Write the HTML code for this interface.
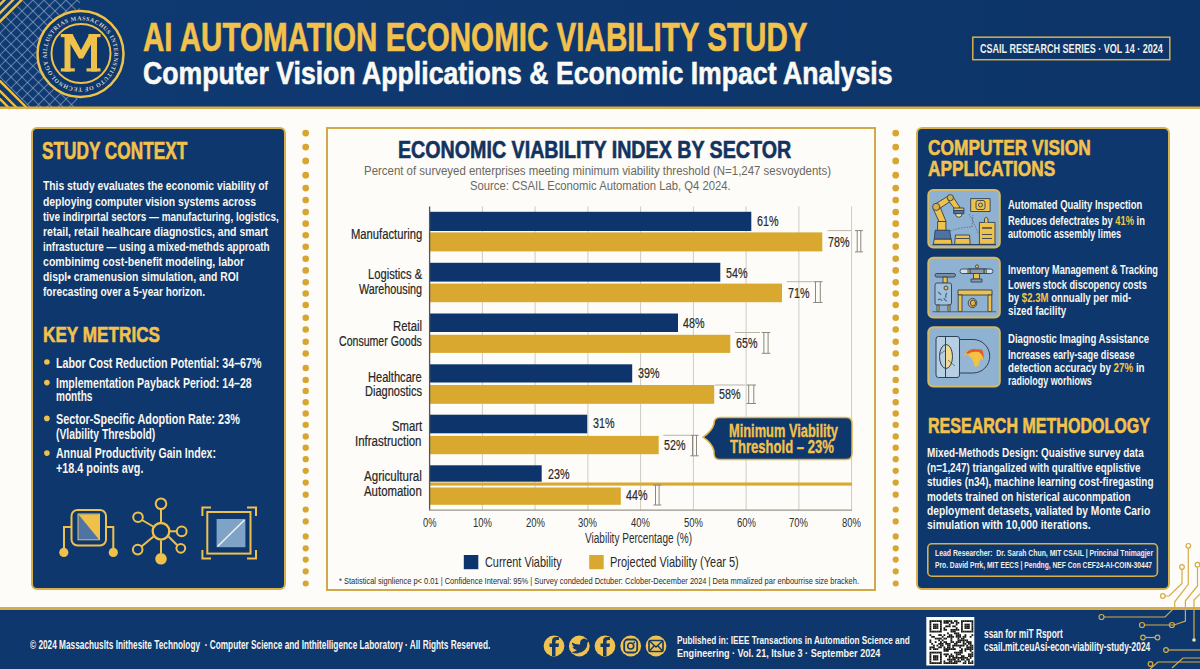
<!DOCTYPE html>
<html><head><meta charset="utf-8">
<style>
*{margin:0;padding:0;box-sizing:border-box}
html,body{width:1200px;height:669px;overflow:hidden;background:#fdfcf8;font-family:"Liberation Sans",sans-serif}
#root{position:relative;width:1200px;height:669px;overflow:hidden;background:#fdfcf8}
.t{position:absolute;white-space:nowrap;line-height:1.1172em;transform-origin:0 0;font-family:"Liberation Sans",sans-serif}
.panel{position:absolute;background:#0e376e;border:2px solid #d8b04c;border-radius:6px}
</style></head><body><div id="root">

<svg width="1200" height="110" style="position:absolute;left:0;top:0">
 <defs>
  <linearGradient id="hg" x1="0" y1="0" x2="1" y2="0">
   <stop offset="0" stop-color="#0f3a72"/><stop offset="1" stop-color="#0c3468"/>
  </linearGradient>
  <clipPath id="gc"><polygon points="24,0 80,0 77,107 29,107 0,78 0,24"/></clipPath>
 </defs>
 <rect x="0" y="0" width="1200" height="107" fill="url(#hg)"/>
 <g clip-path="url(#gc)" stroke="#9aaccb" stroke-opacity="0.6" stroke-width="1.1"><line x1="-132.0" y1="0" x2="-252.0" y2="120.0" /><line x1="-132.0" y1="0" x2="-12.0" y2="120.0" /><line x1="-121.0" y1="0" x2="-241.0" y2="120.0" /><line x1="-121.0" y1="0" x2="-1.0" y2="120.0" /><line x1="-110.0" y1="0" x2="-230.0" y2="120.0" /><line x1="-110.0" y1="0" x2="10.0" y2="120.0" /><line x1="-99.0" y1="0" x2="-219.0" y2="120.0" /><line x1="-99.0" y1="0" x2="21.0" y2="120.0" /><line x1="-88.0" y1="0" x2="-208.0" y2="120.0" /><line x1="-88.0" y1="0" x2="32.0" y2="120.0" /><line x1="-77.0" y1="0" x2="-197.0" y2="120.0" /><line x1="-77.0" y1="0" x2="43.0" y2="120.0" /><line x1="-66.0" y1="0" x2="-186.0" y2="120.0" /><line x1="-66.0" y1="0" x2="54.0" y2="120.0" /><line x1="-55.0" y1="0" x2="-175.0" y2="120.0" /><line x1="-55.0" y1="0" x2="65.0" y2="120.0" /><line x1="-44.0" y1="0" x2="-164.0" y2="120.0" /><line x1="-44.0" y1="0" x2="76.0" y2="120.0" /><line x1="-33.0" y1="0" x2="-153.0" y2="120.0" /><line x1="-33.0" y1="0" x2="87.0" y2="120.0" /><line x1="-22.0" y1="0" x2="-142.0" y2="120.0" /><line x1="-22.0" y1="0" x2="98.0" y2="120.0" /><line x1="-11.0" y1="0" x2="-131.0" y2="120.0" /><line x1="-11.0" y1="0" x2="109.0" y2="120.0" /><line x1="0.0" y1="0" x2="-120.0" y2="120.0" /><line x1="0.0" y1="0" x2="120.0" y2="120.0" /><line x1="11.0" y1="0" x2="-109.0" y2="120.0" /><line x1="11.0" y1="0" x2="131.0" y2="120.0" /><line x1="22.0" y1="0" x2="-98.0" y2="120.0" /><line x1="22.0" y1="0" x2="142.0" y2="120.0" /><line x1="33.0" y1="0" x2="-87.0" y2="120.0" /><line x1="33.0" y1="0" x2="153.0" y2="120.0" /><line x1="44.0" y1="0" x2="-76.0" y2="120.0" /><line x1="44.0" y1="0" x2="164.0" y2="120.0" /><line x1="55.0" y1="0" x2="-65.0" y2="120.0" /><line x1="55.0" y1="0" x2="175.0" y2="120.0" /><line x1="66.0" y1="0" x2="-54.0" y2="120.0" /><line x1="66.0" y1="0" x2="186.0" y2="120.0" /><line x1="77.0" y1="0" x2="-43.0" y2="120.0" /><line x1="77.0" y1="0" x2="197.0" y2="120.0" /><line x1="88.0" y1="0" x2="-32.0" y2="120.0" /><line x1="88.0" y1="0" x2="208.0" y2="120.0" /><line x1="99.0" y1="0" x2="-21.0" y2="120.0" /><line x1="99.0" y1="0" x2="219.0" y2="120.0" /><line x1="110.0" y1="0" x2="-10.0" y2="120.0" /><line x1="110.0" y1="0" x2="230.0" y2="120.0" /><line x1="121.0" y1="0" x2="1.0" y2="120.0" /><line x1="121.0" y1="0" x2="241.0" y2="120.0" /><line x1="132.0" y1="0" x2="12.0" y2="120.0" /><line x1="132.0" y1="0" x2="252.0" y2="120.0" /><line x1="143.0" y1="0" x2="23.0" y2="120.0" /><line x1="143.0" y1="0" x2="263.0" y2="120.0" /><line x1="154.0" y1="0" x2="34.0" y2="120.0" /><line x1="154.0" y1="0" x2="274.0" y2="120.0" /><line x1="165.0" y1="0" x2="45.0" y2="120.0" /><line x1="165.0" y1="0" x2="285.0" y2="120.0" /><line x1="176.0" y1="0" x2="56.0" y2="120.0" /><line x1="176.0" y1="0" x2="296.0" y2="120.0" /><line x1="187.0" y1="0" x2="67.0" y2="120.0" /><line x1="187.0" y1="0" x2="307.0" y2="120.0" /><line x1="198.0" y1="0" x2="78.0" y2="120.0" /><line x1="198.0" y1="0" x2="318.0" y2="120.0" /><line x1="209.0" y1="0" x2="89.0" y2="120.0" /><line x1="209.0" y1="0" x2="329.0" y2="120.0" /><line x1="220.0" y1="0" x2="100.0" y2="120.0" /><line x1="220.0" y1="0" x2="340.0" y2="120.0" /><line x1="231.0" y1="0" x2="111.0" y2="120.0" /><line x1="231.0" y1="0" x2="351.0" y2="120.0" /><line x1="242.0" y1="0" x2="122.0" y2="120.0" /><line x1="242.0" y1="0" x2="362.0" y2="120.0" /><line x1="253.0" y1="0" x2="133.0" y2="120.0" /><line x1="253.0" y1="0" x2="373.0" y2="120.0" /><line x1="264.0" y1="0" x2="144.0" y2="120.0" /><line x1="264.0" y1="0" x2="384.0" y2="120.0" /><line x1="275.0" y1="0" x2="155.0" y2="120.0" /><line x1="275.0" y1="0" x2="395.0" y2="120.0" /><line x1="286.0" y1="0" x2="166.0" y2="120.0" /><line x1="286.0" y1="0" x2="406.0" y2="120.0" /><line x1="297.0" y1="0" x2="177.0" y2="120.0" /><line x1="297.0" y1="0" x2="417.0" y2="120.0" /><line x1="308.0" y1="0" x2="188.0" y2="120.0" /><line x1="308.0" y1="0" x2="428.0" y2="120.0" /><line x1="319.0" y1="0" x2="199.0" y2="120.0" /><line x1="319.0" y1="0" x2="439.0" y2="120.0" /></g>
 <g stroke="#f0c040" stroke-width="2.4" fill="none">
  <line x1="-2" y1="23.5" x2="23.5" y2="-2"/>
  <line x1="-2" y1="15" x2="15" y2="-2"/>
  <line x1="-2" y1="6.5" x2="6.5" y2="-2"/>
  <line x1="-2" y1="79" x2="28" y2="109"/>
  <line x1="-2" y1="89" x2="18" y2="109"/>
  <line x1="-2" y1="97" x2="10" y2="109"/>
 </g>
 <rect x="0" y="106.5" width="1200" height="2.5" fill="#d9ae45"/>
 <circle cx="80.5" cy="54" r="44" fill="#0e376e"/>
 <circle cx="80.5" cy="54" r="43" fill="none" stroke="#eec14a" stroke-width="2.5"/>
 <circle cx="81" cy="53.5" r="29.5" fill="none" stroke="#eec14a" stroke-width="2"/>
 <path id="ring" d="M 80.5,54 m -33.8,0 a 33.8,33.8 0 1,1 67.6,0 a 33.8,33.8 0 1,1 -67.6,0" fill="none"/>
 <text font-family="Liberation Serif" font-weight="bold" font-size="6" fill="#d6d2c4" letter-spacing="0.5"><textPath href="#ring" startOffset="0">ILLUSTRIAS MASSACHUS  INTERNSTITUTO  OF TECHNOLOGY  ARDIONIAC  TECHNOLOGIAE</textPath></text>
 <g fill="#f0c24a">
  <rect x="64.5" y="34" width="6" height="37.5"/><rect x="91" y="34" width="6" height="37.5"/>
  <rect x="60.8" y="34" width="12" height="3.2"/><rect x="88.5" y="34" width="12" height="3.2"/>
  <rect x="60.8" y="68.3" width="14" height="3.2"/><rect x="86.5" y="68.3" width="14" height="3.2"/>
  <polygon points="64.5,34 72.5,34 81,50 89.5,34 97,34 83,58.5 79,58.5"/>
 </g>
</svg>
<div class="panel" style="left:31px;top:126.5px;width:255px;height:463.5px"></div>
<div style="position:absolute;left:325.5px;top:126.5px;width:550.5px;height:464px;border:2px solid #cfa94a;background:#fdfcf8"></div>
<div class="panel" style="left:915.5px;top:126.5px;width:254px;height:463px"></div>
<div style="position:absolute;left:0;top:607px;width:1200px;height:2.5px;background:#d6ad48"></div>
<div style="position:absolute;left:0;top:609.5px;width:1200px;height:60px;background:#0e376e"></div>
<svg width="1200" height="669" style="position:absolute;left:0;top:0">
<circle cx="305.7" cy="133.1" r="3.40" fill="#d6a532"/><circle cx="305.7" cy="147.1" r="3.39" fill="#d6a532"/><circle cx="305.7" cy="160.9" r="3.38" fill="#d6a532"/><circle cx="305.7" cy="175.2" r="3.37" fill="#d6a532"/><circle cx="305.7" cy="188.1" r="3.36" fill="#d6a532"/><circle cx="305.7" cy="200.0" r="3.35" fill="#d6a532"/><circle cx="305.7" cy="212.0" r="3.34" fill="#d6a532"/><circle cx="305.7" cy="223.7" r="3.33" fill="#d6a532"/><circle cx="305.7" cy="235.3" r="3.32" fill="#d6a532"/><circle cx="305.7" cy="246.7" r="3.31" fill="#d6a532"/><circle cx="305.7" cy="258.8" r="3.31" fill="#d6a532"/><circle cx="305.7" cy="270.4" r="3.30" fill="#d6a532"/><circle cx="305.7" cy="282.2" r="3.29" fill="#d6a532"/><circle cx="305.7" cy="293.5" r="3.28" fill="#d6a532"/><circle cx="305.7" cy="305.1" r="3.27" fill="#d6a532"/><circle cx="305.7" cy="317.8" r="3.26" fill="#d6a532"/><circle cx="305.7" cy="329.6" r="3.25" fill="#d6a532"/><circle cx="305.7" cy="341.7" r="3.24" fill="#d6a532"/><circle cx="305.7" cy="353.5" r="3.23" fill="#d6a532"/><circle cx="305.7" cy="368.0" r="3.22" fill="#d6a532"/><circle cx="305.7" cy="379.9" r="3.21" fill="#d6a532"/><circle cx="305.7" cy="390.9" r="3.20" fill="#d6a532"/><circle cx="305.7" cy="402.2" r="3.19" fill="#d6a532"/><circle cx="305.7" cy="413.5" r="3.18" fill="#d6a532"/><circle cx="305.7" cy="424.8" r="3.17" fill="#d6a532"/><circle cx="305.7" cy="436.4" r="3.16" fill="#d6a532"/><circle cx="305.7" cy="447.7" r="3.15" fill="#d6a532"/><circle cx="305.7" cy="459.2" r="3.14" fill="#d6a532"/><circle cx="305.7" cy="470.8" r="3.14" fill="#d6a532"/><circle cx="305.7" cy="482.6" r="3.13" fill="#d6a532"/><circle cx="305.7" cy="494.7" r="3.12" fill="#d6a532"/><circle cx="305.7" cy="509.5" r="3.11" fill="#d6a532"/><circle cx="305.7" cy="521.4" r="3.10" fill="#d6a532"/><circle cx="305.7" cy="536.4" r="3.09" fill="#d6a532"/><circle cx="305.7" cy="548.3" r="3.08" fill="#d6a532"/><circle cx="305.7" cy="559.6" r="3.07" fill="#d6a532"/><circle cx="305.7" cy="571.4" r="3.06" fill="#d6a532"/><circle cx="305.7" cy="583.5" r="3.05" fill="#d6a532"/><circle cx="895.7" cy="133.1" r="3.40" fill="#d6a532"/><circle cx="895.7" cy="147.1" r="3.39" fill="#d6a532"/><circle cx="895.7" cy="160.9" r="3.38" fill="#d6a532"/><circle cx="895.7" cy="175.2" r="3.37" fill="#d6a532"/><circle cx="895.7" cy="188.1" r="3.36" fill="#d6a532"/><circle cx="895.7" cy="200.0" r="3.35" fill="#d6a532"/><circle cx="895.7" cy="212.0" r="3.34" fill="#d6a532"/><circle cx="895.7" cy="223.7" r="3.33" fill="#d6a532"/><circle cx="895.7" cy="235.3" r="3.32" fill="#d6a532"/><circle cx="895.7" cy="246.7" r="3.31" fill="#d6a532"/><circle cx="895.7" cy="258.8" r="3.31" fill="#d6a532"/><circle cx="895.7" cy="270.4" r="3.30" fill="#d6a532"/><circle cx="895.7" cy="282.2" r="3.29" fill="#d6a532"/><circle cx="895.7" cy="293.5" r="3.28" fill="#d6a532"/><circle cx="895.7" cy="305.1" r="3.27" fill="#d6a532"/><circle cx="895.7" cy="317.8" r="3.26" fill="#d6a532"/><circle cx="895.7" cy="329.6" r="3.25" fill="#d6a532"/><circle cx="895.7" cy="341.7" r="3.24" fill="#d6a532"/><circle cx="895.7" cy="353.5" r="3.23" fill="#d6a532"/><circle cx="895.7" cy="368.0" r="3.22" fill="#d6a532"/><circle cx="895.7" cy="379.9" r="3.21" fill="#d6a532"/><circle cx="895.7" cy="390.9" r="3.20" fill="#d6a532"/><circle cx="895.7" cy="402.2" r="3.19" fill="#d6a532"/><circle cx="895.7" cy="413.5" r="3.18" fill="#d6a532"/><circle cx="895.7" cy="424.8" r="3.17" fill="#d6a532"/><circle cx="895.7" cy="436.4" r="3.16" fill="#d6a532"/><circle cx="895.7" cy="447.7" r="3.15" fill="#d6a532"/><circle cx="895.7" cy="459.2" r="3.14" fill="#d6a532"/><circle cx="895.7" cy="470.8" r="3.14" fill="#d6a532"/><circle cx="895.7" cy="482.6" r="3.13" fill="#d6a532"/><circle cx="895.7" cy="494.7" r="3.12" fill="#d6a532"/><circle cx="895.7" cy="509.5" r="3.11" fill="#d6a532"/><circle cx="895.7" cy="521.4" r="3.10" fill="#d6a532"/><circle cx="895.7" cy="536.4" r="3.09" fill="#d6a532"/><circle cx="895.7" cy="548.3" r="3.08" fill="#d6a532"/><circle cx="895.7" cy="559.6" r="3.07" fill="#d6a532"/><circle cx="895.7" cy="571.4" r="3.06" fill="#d6a532"/><circle cx="895.7" cy="583.5" r="3.05" fill="#d6a532"/>
<line x1="482.4" y1="206.5" x2="482.4" y2="510" stroke="#cfcbc2" stroke-width="1"/><line x1="535.1" y1="206.5" x2="535.1" y2="510" stroke="#cfcbc2" stroke-width="1"/><line x1="587.9" y1="206.5" x2="587.9" y2="510" stroke="#cfcbc2" stroke-width="1"/><line x1="640.6" y1="206.5" x2="640.6" y2="510" stroke="#cfcbc2" stroke-width="1"/><line x1="693.4" y1="206.5" x2="693.4" y2="510" stroke="#cfcbc2" stroke-width="1"/><line x1="746.1" y1="206.5" x2="746.1" y2="510" stroke="#cfcbc2" stroke-width="1"/><line x1="798.9" y1="206.5" x2="798.9" y2="510" stroke="#cfcbc2" stroke-width="1"/><line x1="851.6" y1="206.5" x2="851.6" y2="510" stroke="#cfcbc2" stroke-width="1"/><rect x="429.6" y="211.8" width="321.7" height="19.2" fill="#0e356b"/><rect x="429.6" y="262.8" width="290.7" height="18.8" fill="#0e356b"/><rect x="429.6" y="313.5" width="248.4" height="18.5" fill="#0e356b"/><rect x="429.6" y="364.3" width="202.6" height="18.2" fill="#0e356b"/><rect x="429.6" y="414.7" width="157.6" height="18.6" fill="#0e356b"/><rect x="429.6" y="465.3" width="112.1" height="16.4" fill="#0e356b"/><rect x="429.6" y="232.4" width="392.7" height="19.0" fill="#d9a82f"/><rect x="429.6" y="283.6" width="352.4" height="18.6" fill="#d9a82f"/><rect x="429.6" y="334.8" width="300.7" height="18.1" fill="#d9a82f"/><rect x="429.6" y="385.0" width="284.6" height="18.8" fill="#d9a82f"/><rect x="429.6" y="435.9" width="229.1" height="18.3" fill="#d9a82f"/><rect x="429.6" y="487.5" width="191.2" height="17.3" fill="#d9a82f"/><rect x="429.6" y="482.5" width="422.4" height="3.1" fill="#d9a82f"/><line x1="429.6" y1="206.5" x2="429.6" y2="510.5" stroke="#555" stroke-width="1.3"/><line x1="429" y1="510.2" x2="852" y2="510.2" stroke="#9a968c" stroke-width="1.2"/><line x1="827.5" y1="230.6" x2="851.0" y2="230.6" stroke="#b9b4aa" stroke-width="1"/><g stroke="#8e887c" stroke-width="1" fill="none"><line x1="855.0" y1="230.6" x2="863.0" y2="230.6"/><line x1="855.0" y1="251.9" x2="863.0" y2="251.9"/><line x1="857.2" y1="230.6" x2="857.2" y2="251.9"/><line x1="860.8" y1="230.6" x2="860.8" y2="251.9"/></g><line x1="786.7" y1="281.7" x2="812.5" y2="281.7" stroke="#b9b4aa" stroke-width="1"/><g stroke="#8e887c" stroke-width="1" fill="none"><line x1="813.3" y1="281.7" x2="822.5" y2="281.7"/><line x1="813.3" y1="302.5" x2="822.5" y2="302.5"/><line x1="815.5" y1="281.7" x2="815.5" y2="302.5"/><line x1="820.3" y1="281.7" x2="820.3" y2="302.5"/></g><line x1="735.0" y1="332.5" x2="760.0" y2="332.5" stroke="#b9b4aa" stroke-width="1"/><g stroke="#8e887c" stroke-width="1" fill="none"><line x1="761.7" y1="332.5" x2="770.3" y2="332.5"/><line x1="761.7" y1="353.3" x2="770.3" y2="353.3"/><line x1="763.9" y1="332.5" x2="763.9" y2="353.3"/><line x1="768.1" y1="332.5" x2="768.1" y2="353.3"/></g><line x1="715.0" y1="385.0" x2="745.0" y2="385.0" stroke="#b9b4aa" stroke-width="1"/><g stroke="#8e887c" stroke-width="1" fill="none"><line x1="746.5" y1="385.0" x2="756.0" y2="385.0"/><line x1="746.5" y1="403.5" x2="756.0" y2="403.5"/><line x1="748.7" y1="385.0" x2="748.7" y2="403.5"/><line x1="753.8" y1="385.0" x2="753.8" y2="403.5"/></g><line x1="663.3" y1="435.3" x2="690.0" y2="435.3" stroke="#b9b4aa" stroke-width="1"/><g stroke="#8e887c" stroke-width="1" fill="none"><line x1="690.3" y1="435.3" x2="698.7" y2="435.3"/><line x1="690.3" y1="455.8" x2="698.7" y2="455.8"/><line x1="692.5" y1="435.3" x2="692.5" y2="455.8"/><line x1="696.5" y1="435.3" x2="696.5" y2="455.8"/></g><g stroke="#8e887c" stroke-width="1" fill="none"><line x1="653.3" y1="485.0" x2="661.3" y2="485.0"/><line x1="653.3" y1="505.0" x2="661.3" y2="505.0"/><line x1="655.5" y1="485.0" x2="655.5" y2="505.0"/><line x1="659.1" y1="485.0" x2="659.1" y2="505.0"/></g><path d="M 720,417.5 L 846,417.5 Q 852,417.5 852,423.5 L 852,453.5 Q 852,459.5 846,459.5 L 720,459.5 Q 714,459.5 714,453.5 L 714,451 Q 712,443 703,437.2 Q 712,431 714,424 L 714,423.5 Q 714,417.5 720,417.5 Z" fill="#0e376e" stroke="#e2b548" stroke-width="1.5"/><rect x="463.8" y="555.0" width="14.5" height="14.2" fill="#0e356b"/><rect x="589.2" y="555.0" width="14.5" height="14.2" fill="#d9a82f"/>

<g fill="none" stroke="#efc04a" stroke-width="2">
 <rect x="71.5" y="510" width="34.5" height="35.5" rx="6"/>
 <path d="M71.5,527 H64 V550"/><path d="M106,527 H113.3 V550"/>
</g>
<circle cx="63.8" cy="552.4" r="4.6" fill="#efc04a"/><circle cx="113.3" cy="552.4" r="4.6" fill="#efc04a"/>
<rect x="78" y="514" width="21.5" height="25.8" fill="#4f74a3" stroke="#d9c27a" stroke-width="1"/>
<polygon points="78.5,514.5 99,514.5 99,539.5" fill="#efc04a"/>
<g stroke="#efc04a" stroke-width="2" fill="none">
 <line x1="161" y1="509" x2="161" y2="522"/><line x1="161" y1="540.5" x2="161" y2="553"/>
 <line x1="142" y1="520" x2="154" y2="527"/><line x1="170" y1="531.3" x2="176.5" y2="531.3"/>
 <line x1="141.5" y1="546.5" x2="153.5" y2="536.5"/><line x1="168.5" y1="536.5" x2="177" y2="545"/>
 <circle cx="161" cy="531.3" r="8.3" stroke-width="2.3"/>
 <circle cx="161" cy="503.8" r="5.3"/><circle cx="138" cy="517.2" r="4.8"/><circle cx="181.7" cy="531.3" r="4.9"/>
 <circle cx="137.7" cy="549.6" r="4.8"/><circle cx="180.8" cy="548.3" r="4.4"/>
</g>
<circle cx="161" cy="558.8" r="5.8" fill="#efc04a"/>
<g stroke="#efc04a" stroke-width="2" fill="none">
 <path d="M202.4,516 V507.5 H211"/><path d="M247,507.5 H256 V516"/>
 <path d="M202.4,550 V558.4 H211"/><path d="M247,558.4 H256 V550"/>
 <rect x="207.3" y="512" width="43.2" height="41.6"/>
</g>
<rect x="216.6" y="519" width="28.8" height="28.2" fill="#7fa3c7"/>
<line x1="217.5" y1="546.5" x2="244.5" y2="520" stroke="#f4f4f0" stroke-width="1.4"/>

<rect x="928.3" y="189.9" width="71.5" height="57.6" rx="5" fill="#8fb2d3" stroke="#d8b95e" stroke-width="2"/><rect x="928.3" y="257.7" width="71.5" height="59.8" rx="5" fill="#8fb2d3" stroke="#d8b95e" stroke-width="2"/><rect x="928.3" y="327.2" width="71.5" height="59.2" rx="5" fill="#8fb2d3" stroke="#d8b95e" stroke-width="2"/>
<g stroke="#2f3f55" stroke-width="0.9" stroke-linejoin="round">
 <polygon points="970.7,198.6 990.1,198.6 990.1,211.5 970.7,211.5" fill="#efc24e"/>
 <rect x="976" y="200.5" width="9" height="9" rx="2" fill="none"/>
 <circle cx="980.5" cy="205" r="2" fill="none"/>
 <path d="M950,231 Q962,227 972,227 L973,215" fill="none" stroke="#52667d" stroke-dasharray="1.6,1.2" stroke-width="0.8"/>
 <path d="M969,214 Q974,222 978,233" fill="none" stroke="#52667d" stroke-dasharray="1.6,1.2" stroke-width="0.8"/>
 <polygon points="934.2,239 951.2,239 952,244.3 933.4,244.3" fill="#efc24e"/>
 <polygon points="935.2,230.2 949.5,230.2 951,239 934.2,239" fill="#4d73a6"/>
 <rect x="937.6" y="221.5" width="8.3" height="8.7" fill="#efc24e"/>
 <polygon points="933,208.5 939.5,205.5 946,221.5 939,221.5" fill="#efc24e"/>
 <polygon points="934.5,204.5 949,195.5 952.5,200 938,209.5" fill="#efc24e"/>
 <polygon points="948,200 952.5,196 960,207.5 955.5,210" fill="#efc24e"/>
 <circle cx="936.2" cy="206.9" r="3.6" fill="#d9b04a"/>
 <circle cx="950.3" cy="197.7" r="3.1" fill="#d9b04a"/>
 <path d="M953.7,210.5 L953.7,208 H963.9 V210.5 Z" fill="#efc24e"/>
 <rect x="953.7" y="210.5" width="10.2" height="3.2" fill="#4d73a6"/>
 <path d="M955.5,213.7 a3.3,3.6 0 0 0 6.6,0 z" fill="#f4e2a8"/>
 <polygon points="955.5,235 969.5,235 970.2,244.3 954.6,244.3" fill="#efc24e"/>
 <line x1="956" y1="238.5" x2="969" y2="238.5"/>
 <rect x="979.4" y="222.4" width="15.6" height="21.9" fill="#efc24e"/>
 <line x1="982" y1="228" x2="992" y2="228" stroke-width="1.4"/>
 <line x1="982" y1="234.5" x2="992" y2="234.5"/>
 <line x1="982" y1="238.5" x2="992" y2="238.5"/>
 <path d="M984.5,222.4 V219 Q986.2,215.5 988,219 V222.4" fill="#efc24e"/>
 <line x1="932.5" y1="244.6" x2="996" y2="244.6" stroke-width="1.1"/>
</g>
<g stroke="#2f3f55" stroke-width="0.9" stroke-linejoin="round">
 <rect x="935" y="273.5" width="20.5" height="3.6" rx="1.8" fill="#7d8fa2"/>
 <rect x="943" y="277.1" width="4.2" height="6" fill="#efc24e"/>
 <rect x="935" y="283" width="16.5" height="22" rx="2" fill="#a4c0d8"/>
 <circle cx="946" cy="288" r="2" fill="#e2c060"/>
 <path d="M938,292 q2,1 3,3 M947,293 q-2,2 -1,5 M938,300 q3,-2 4,1 M944,298 q0,2 3,3" fill="none" stroke="#3c6da8" stroke-width="1.2"/>
 <rect x="937" y="305" width="2" height="6.5" fill="#efc24e"/><rect x="948" y="305" width="2" height="6.5" fill="#efc24e"/>
 <rect x="960" y="269" width="33" height="4.5" rx="2.25" fill="#cfe0ee"/>
 <rect x="968" y="269" width="2.2" height="4.5" fill="#efc24e"/><rect x="984" y="269" width="2.2" height="4.5" fill="#efc24e"/>
 <rect x="970.2" y="269" width="13.8" height="4.5" fill="#8a9aa8"/>
 <circle cx="977" cy="266.5" r="1.6" fill="#efc24e"/>
 <rect x="973.5" y="273.5" width="6" height="5.5" fill="#efc24e"/>
 <rect x="971" y="279" width="11" height="3" fill="#8a9aa8"/>
 <rect x="958" y="290" width="34" height="5" fill="#efc24e"/>
 <rect x="958.2" y="295" width="3.8" height="16.5" fill="#efc24e"/><rect x="988" y="295" width="3.8" height="16.5" fill="#efc24e"/>
 <ellipse cx="972.5" cy="303" rx="4.3" ry="4.6" fill="#e3b344"/>
 <ellipse cx="973" cy="303" rx="2.6" ry="3" fill="none"/>
 <line x1="932.5" y1="311.8" x2="996" y2="311.8" stroke-width="1.1" stroke="#4b6075"/>
</g>
<g stroke="#2f3f55" stroke-width="1" fill="none">
 <path d="M959.5,339.5 H973 a16.75,16.75 0 0 1 0,33.5 H959.5 Z" fill="#95b5d2"/>
 <rect x="936" y="336.5" width="23.5" height="41" rx="2.5" fill="#b6cfe3"/>
 <path d="M946,344.5 a6.5,12 0 0 1 0,24" fill="#f2d98e"/>
 <path d="M946,344.5 a6.5,12 0 0 0 0,24"/>
 <line x1="945.5" y1="336.5" x2="945.5" y2="377.5"/>
 <line x1="940" y1="354" x2="946" y2="350" stroke-width="0.6"/>
 <line x1="948" y1="360" x2="955" y2="366" stroke-width="0.6"/>
</g>
<path d="M963,357 Q967,349 972,349.5 L982,350 Q984,355 983,360 Q981,358 980,360 Q979,367 975,367 Q973,357 966,354 Q964,356 963,357 Z" fill="#f3c245"/>
<path d="M966,353 Q970,348.5 974,349 L982,349.5 Q984,353 983.5,359 Q982,354 979,352 Q972,351 968,354 Z" fill="#e55a2a"/>

<rect x="927.8" y="543.8" width="229.6" height="32.4" rx="4" fill="none" stroke="#d9b04a" stroke-width="1.6"/>
<rect x="972.8" y="37.2" width="197" height="22.5" fill="none" stroke="#d9b04a" stroke-width="1.5"/>
<circle cx="554.0" cy="646" r="10.4" fill="#f0c350"/><circle cx="579.3" cy="646" r="10.4" fill="#f0c350"/><circle cx="605.0" cy="646" r="10.4" fill="#f0c350"/><circle cx="630.7" cy="646" r="10.4" fill="#f0c350"/><circle cx="656.0" cy="646" r="10.4" fill="#f0c350"/><path d="M555.5,656 V647 H558.5 L559,643.5 H555.5 V641.5 Q555.5,640 557,640 H559 V637 H556 Q552,637 552,641 V643.5 H549.5 V647 H552 V656 Z" fill="#143a6b"/><path d="M572,642.5 Q576,645 580,644.5 Q579.5,639.5 584,638.5 Q586,638.5 587,640 L589,639 L588,641 L589.5,641 Q588.5,642 587.5,642.5 Q587.5,652 577,653.5 Q573.5,653.5 571.5,652 Q575,652 577,650 Q573,649 572.5,646.5 L574.5,646.5 Q571.5,645 572,642.5 Z" fill="#143a6b"/><path d="M606.5,656 V647 H609.5 L610,643.5 H606.5 V641.5 Q606.5,640 608,640 H610 V637 H607 Q603,637 603,641 V643.5 H600.5 V647 H603 V656 Z" fill="#143a6b"/><rect x="624.2" y="639.5" width="13" height="13" rx="3.5" fill="none" stroke="#143a6b" stroke-width="1.8"/><circle cx="630.7" cy="646" r="3" fill="none" stroke="#143a6b" stroke-width="1.6"/><circle cx="634.2" cy="642.4" r="0.9" fill="#143a6b"/><rect x="649" y="640.5" width="14" height="11" rx="1.5" fill="none" stroke="#143a6b" stroke-width="1.7"/><path d="M649.5,641 L656,647 L662.5,641 M649.5,651 L654,646 M662.5,651 L658,646" fill="none" stroke="#143a6b" stroke-width="1.5"/>
<rect x="926.3" y="617" width="48" height="48.5" fill="#fdfdfb"/><rect x="929.50" y="620.20" width="1.80" height="1.80" fill="#1a1a1a"/><rect x="931.25" y="620.20" width="1.80" height="1.80" fill="#1a1a1a"/><rect x="933.00" y="620.20" width="1.80" height="1.80" fill="#1a1a1a"/><rect x="934.75" y="620.20" width="1.80" height="1.80" fill="#1a1a1a"/><rect x="936.50" y="620.20" width="1.80" height="1.80" fill="#1a1a1a"/><rect x="938.25" y="620.20" width="1.80" height="1.80" fill="#1a1a1a"/><rect x="940.00" y="620.20" width="1.80" height="1.80" fill="#1a1a1a"/><rect x="943.50" y="620.20" width="1.80" height="1.80" fill="#1a1a1a"/><rect x="945.25" y="620.20" width="1.80" height="1.80" fill="#1a1a1a"/><rect x="947.00" y="620.20" width="1.80" height="1.80" fill="#1a1a1a"/><rect x="948.75" y="620.20" width="1.80" height="1.80" fill="#1a1a1a"/><rect x="950.50" y="620.20" width="1.80" height="1.80" fill="#1a1a1a"/><rect x="954.00" y="620.20" width="1.80" height="1.80" fill="#1a1a1a"/><rect x="955.75" y="620.20" width="1.80" height="1.80" fill="#1a1a1a"/><rect x="961.00" y="620.20" width="1.80" height="1.80" fill="#1a1a1a"/><rect x="962.75" y="620.20" width="1.80" height="1.80" fill="#1a1a1a"/><rect x="964.50" y="620.20" width="1.80" height="1.80" fill="#1a1a1a"/><rect x="966.25" y="620.20" width="1.80" height="1.80" fill="#1a1a1a"/><rect x="968.00" y="620.20" width="1.80" height="1.80" fill="#1a1a1a"/><rect x="969.75" y="620.20" width="1.80" height="1.80" fill="#1a1a1a"/><rect x="971.50" y="620.20" width="1.80" height="1.80" fill="#1a1a1a"/><rect x="929.50" y="621.95" width="1.80" height="1.80" fill="#1a1a1a"/><rect x="940.00" y="621.95" width="1.80" height="1.80" fill="#1a1a1a"/><rect x="943.50" y="621.95" width="1.80" height="1.80" fill="#1a1a1a"/><rect x="945.25" y="621.95" width="1.80" height="1.80" fill="#1a1a1a"/><rect x="947.00" y="621.95" width="1.80" height="1.80" fill="#1a1a1a"/><rect x="950.50" y="621.95" width="1.80" height="1.80" fill="#1a1a1a"/><rect x="952.25" y="621.95" width="1.80" height="1.80" fill="#1a1a1a"/><rect x="955.75" y="621.95" width="1.80" height="1.80" fill="#1a1a1a"/><rect x="957.50" y="621.95" width="1.80" height="1.80" fill="#1a1a1a"/><rect x="961.00" y="621.95" width="1.80" height="1.80" fill="#1a1a1a"/><rect x="971.50" y="621.95" width="1.80" height="1.80" fill="#1a1a1a"/><rect x="929.50" y="623.70" width="1.80" height="1.80" fill="#1a1a1a"/><rect x="933.00" y="623.70" width="1.80" height="1.80" fill="#1a1a1a"/><rect x="934.75" y="623.70" width="1.80" height="1.80" fill="#1a1a1a"/><rect x="936.50" y="623.70" width="1.80" height="1.80" fill="#1a1a1a"/><rect x="940.00" y="623.70" width="1.80" height="1.80" fill="#1a1a1a"/><rect x="948.75" y="623.70" width="1.80" height="1.80" fill="#1a1a1a"/><rect x="955.75" y="623.70" width="1.80" height="1.80" fill="#1a1a1a"/><rect x="961.00" y="623.70" width="1.80" height="1.80" fill="#1a1a1a"/><rect x="964.50" y="623.70" width="1.80" height="1.80" fill="#1a1a1a"/><rect x="966.25" y="623.70" width="1.80" height="1.80" fill="#1a1a1a"/><rect x="968.00" y="623.70" width="1.80" height="1.80" fill="#1a1a1a"/><rect x="971.50" y="623.70" width="1.80" height="1.80" fill="#1a1a1a"/><rect x="929.50" y="625.45" width="1.80" height="1.80" fill="#1a1a1a"/><rect x="933.00" y="625.45" width="1.80" height="1.80" fill="#1a1a1a"/><rect x="934.75" y="625.45" width="1.80" height="1.80" fill="#1a1a1a"/><rect x="936.50" y="625.45" width="1.80" height="1.80" fill="#1a1a1a"/><rect x="940.00" y="625.45" width="1.80" height="1.80" fill="#1a1a1a"/><rect x="945.25" y="625.45" width="1.80" height="1.80" fill="#1a1a1a"/><rect x="947.00" y="625.45" width="1.80" height="1.80" fill="#1a1a1a"/><rect x="948.75" y="625.45" width="1.80" height="1.80" fill="#1a1a1a"/><rect x="952.25" y="625.45" width="1.80" height="1.80" fill="#1a1a1a"/><rect x="954.00" y="625.45" width="1.80" height="1.80" fill="#1a1a1a"/><rect x="961.00" y="625.45" width="1.80" height="1.80" fill="#1a1a1a"/><rect x="964.50" y="625.45" width="1.80" height="1.80" fill="#1a1a1a"/><rect x="966.25" y="625.45" width="1.80" height="1.80" fill="#1a1a1a"/><rect x="968.00" y="625.45" width="1.80" height="1.80" fill="#1a1a1a"/><rect x="971.50" y="625.45" width="1.80" height="1.80" fill="#1a1a1a"/><rect x="929.50" y="627.20" width="1.80" height="1.80" fill="#1a1a1a"/><rect x="933.00" y="627.20" width="1.80" height="1.80" fill="#1a1a1a"/><rect x="934.75" y="627.20" width="1.80" height="1.80" fill="#1a1a1a"/><rect x="936.50" y="627.20" width="1.80" height="1.80" fill="#1a1a1a"/><rect x="940.00" y="627.20" width="1.80" height="1.80" fill="#1a1a1a"/><rect x="943.50" y="627.20" width="1.80" height="1.80" fill="#1a1a1a"/><rect x="955.75" y="627.20" width="1.80" height="1.80" fill="#1a1a1a"/><rect x="961.00" y="627.20" width="1.80" height="1.80" fill="#1a1a1a"/><rect x="964.50" y="627.20" width="1.80" height="1.80" fill="#1a1a1a"/><rect x="966.25" y="627.20" width="1.80" height="1.80" fill="#1a1a1a"/><rect x="968.00" y="627.20" width="1.80" height="1.80" fill="#1a1a1a"/><rect x="971.50" y="627.20" width="1.80" height="1.80" fill="#1a1a1a"/><rect x="929.50" y="628.95" width="1.80" height="1.80" fill="#1a1a1a"/><rect x="940.00" y="628.95" width="1.80" height="1.80" fill="#1a1a1a"/><rect x="943.50" y="628.95" width="1.80" height="1.80" fill="#1a1a1a"/><rect x="945.25" y="628.95" width="1.80" height="1.80" fill="#1a1a1a"/><rect x="950.50" y="628.95" width="1.80" height="1.80" fill="#1a1a1a"/><rect x="952.25" y="628.95" width="1.80" height="1.80" fill="#1a1a1a"/><rect x="954.00" y="628.95" width="1.80" height="1.80" fill="#1a1a1a"/><rect x="955.75" y="628.95" width="1.80" height="1.80" fill="#1a1a1a"/><rect x="957.50" y="628.95" width="1.80" height="1.80" fill="#1a1a1a"/><rect x="961.00" y="628.95" width="1.80" height="1.80" fill="#1a1a1a"/><rect x="971.50" y="628.95" width="1.80" height="1.80" fill="#1a1a1a"/><rect x="929.50" y="630.70" width="1.80" height="1.80" fill="#1a1a1a"/><rect x="931.25" y="630.70" width="1.80" height="1.80" fill="#1a1a1a"/><rect x="933.00" y="630.70" width="1.80" height="1.80" fill="#1a1a1a"/><rect x="934.75" y="630.70" width="1.80" height="1.80" fill="#1a1a1a"/><rect x="936.50" y="630.70" width="1.80" height="1.80" fill="#1a1a1a"/><rect x="938.25" y="630.70" width="1.80" height="1.80" fill="#1a1a1a"/><rect x="940.00" y="630.70" width="1.80" height="1.80" fill="#1a1a1a"/><rect x="950.50" y="630.70" width="1.80" height="1.80" fill="#1a1a1a"/><rect x="952.25" y="630.70" width="1.80" height="1.80" fill="#1a1a1a"/><rect x="954.00" y="630.70" width="1.80" height="1.80" fill="#1a1a1a"/><rect x="961.00" y="630.70" width="1.80" height="1.80" fill="#1a1a1a"/><rect x="962.75" y="630.70" width="1.80" height="1.80" fill="#1a1a1a"/><rect x="964.50" y="630.70" width="1.80" height="1.80" fill="#1a1a1a"/><rect x="966.25" y="630.70" width="1.80" height="1.80" fill="#1a1a1a"/><rect x="968.00" y="630.70" width="1.80" height="1.80" fill="#1a1a1a"/><rect x="969.75" y="630.70" width="1.80" height="1.80" fill="#1a1a1a"/><rect x="971.50" y="630.70" width="1.80" height="1.80" fill="#1a1a1a"/><rect x="947.00" y="632.45" width="1.80" height="1.80" fill="#1a1a1a"/><rect x="954.00" y="632.45" width="1.80" height="1.80" fill="#1a1a1a"/><rect x="955.75" y="632.45" width="1.80" height="1.80" fill="#1a1a1a"/><rect x="957.50" y="632.45" width="1.80" height="1.80" fill="#1a1a1a"/><rect x="929.50" y="634.20" width="1.80" height="1.80" fill="#1a1a1a"/><rect x="938.25" y="634.20" width="1.80" height="1.80" fill="#1a1a1a"/><rect x="940.00" y="634.20" width="1.80" height="1.80" fill="#1a1a1a"/><rect x="943.50" y="634.20" width="1.80" height="1.80" fill="#1a1a1a"/><rect x="948.75" y="634.20" width="1.80" height="1.80" fill="#1a1a1a"/><rect x="950.50" y="634.20" width="1.80" height="1.80" fill="#1a1a1a"/><rect x="955.75" y="634.20" width="1.80" height="1.80" fill="#1a1a1a"/><rect x="957.50" y="634.20" width="1.80" height="1.80" fill="#1a1a1a"/><rect x="959.25" y="634.20" width="1.80" height="1.80" fill="#1a1a1a"/><rect x="964.50" y="634.20" width="1.80" height="1.80" fill="#1a1a1a"/><rect x="971.50" y="634.20" width="1.80" height="1.80" fill="#1a1a1a"/><rect x="931.25" y="635.95" width="1.80" height="1.80" fill="#1a1a1a"/><rect x="933.00" y="635.95" width="1.80" height="1.80" fill="#1a1a1a"/><rect x="941.75" y="635.95" width="1.80" height="1.80" fill="#1a1a1a"/><rect x="947.00" y="635.95" width="1.80" height="1.80" fill="#1a1a1a"/><rect x="948.75" y="635.95" width="1.80" height="1.80" fill="#1a1a1a"/><rect x="950.50" y="635.95" width="1.80" height="1.80" fill="#1a1a1a"/><rect x="952.25" y="635.95" width="1.80" height="1.80" fill="#1a1a1a"/><rect x="955.75" y="635.95" width="1.80" height="1.80" fill="#1a1a1a"/><rect x="957.50" y="635.95" width="1.80" height="1.80" fill="#1a1a1a"/><rect x="959.25" y="635.95" width="1.80" height="1.80" fill="#1a1a1a"/><rect x="962.75" y="635.95" width="1.80" height="1.80" fill="#1a1a1a"/><rect x="964.50" y="635.95" width="1.80" height="1.80" fill="#1a1a1a"/><rect x="969.75" y="635.95" width="1.80" height="1.80" fill="#1a1a1a"/><rect x="934.75" y="637.70" width="1.80" height="1.80" fill="#1a1a1a"/><rect x="936.50" y="637.70" width="1.80" height="1.80" fill="#1a1a1a"/><rect x="938.25" y="637.70" width="1.80" height="1.80" fill="#1a1a1a"/><rect x="940.00" y="637.70" width="1.80" height="1.80" fill="#1a1a1a"/><rect x="943.50" y="637.70" width="1.80" height="1.80" fill="#1a1a1a"/><rect x="945.25" y="637.70" width="1.80" height="1.80" fill="#1a1a1a"/><rect x="950.50" y="637.70" width="1.80" height="1.80" fill="#1a1a1a"/><rect x="957.50" y="637.70" width="1.80" height="1.80" fill="#1a1a1a"/><rect x="961.00" y="637.70" width="1.80" height="1.80" fill="#1a1a1a"/><rect x="962.75" y="637.70" width="1.80" height="1.80" fill="#1a1a1a"/><rect x="929.50" y="639.45" width="1.80" height="1.80" fill="#1a1a1a"/><rect x="938.25" y="639.45" width="1.80" height="1.80" fill="#1a1a1a"/><rect x="941.75" y="639.45" width="1.80" height="1.80" fill="#1a1a1a"/><rect x="950.50" y="639.45" width="1.80" height="1.80" fill="#1a1a1a"/><rect x="957.50" y="639.45" width="1.80" height="1.80" fill="#1a1a1a"/><rect x="959.25" y="639.45" width="1.80" height="1.80" fill="#1a1a1a"/><rect x="961.00" y="639.45" width="1.80" height="1.80" fill="#1a1a1a"/><rect x="962.75" y="639.45" width="1.80" height="1.80" fill="#1a1a1a"/><rect x="964.50" y="639.45" width="1.80" height="1.80" fill="#1a1a1a"/><rect x="966.25" y="639.45" width="1.80" height="1.80" fill="#1a1a1a"/><rect x="929.50" y="641.20" width="1.80" height="1.80" fill="#1a1a1a"/><rect x="934.75" y="641.20" width="1.80" height="1.80" fill="#1a1a1a"/><rect x="940.00" y="641.20" width="1.80" height="1.80" fill="#1a1a1a"/><rect x="943.50" y="641.20" width="1.80" height="1.80" fill="#1a1a1a"/><rect x="945.25" y="641.20" width="1.80" height="1.80" fill="#1a1a1a"/><rect x="950.50" y="641.20" width="1.80" height="1.80" fill="#1a1a1a"/><rect x="952.25" y="641.20" width="1.80" height="1.80" fill="#1a1a1a"/><rect x="955.75" y="641.20" width="1.80" height="1.80" fill="#1a1a1a"/><rect x="957.50" y="641.20" width="1.80" height="1.80" fill="#1a1a1a"/><rect x="959.25" y="641.20" width="1.80" height="1.80" fill="#1a1a1a"/><rect x="962.75" y="641.20" width="1.80" height="1.80" fill="#1a1a1a"/><rect x="966.25" y="641.20" width="1.80" height="1.80" fill="#1a1a1a"/><rect x="968.00" y="641.20" width="1.80" height="1.80" fill="#1a1a1a"/><rect x="969.75" y="641.20" width="1.80" height="1.80" fill="#1a1a1a"/><rect x="931.25" y="642.95" width="1.80" height="1.80" fill="#1a1a1a"/><rect x="938.25" y="642.95" width="1.80" height="1.80" fill="#1a1a1a"/><rect x="940.00" y="642.95" width="1.80" height="1.80" fill="#1a1a1a"/><rect x="941.75" y="642.95" width="1.80" height="1.80" fill="#1a1a1a"/><rect x="945.25" y="642.95" width="1.80" height="1.80" fill="#1a1a1a"/><rect x="947.00" y="642.95" width="1.80" height="1.80" fill="#1a1a1a"/><rect x="948.75" y="642.95" width="1.80" height="1.80" fill="#1a1a1a"/><rect x="954.00" y="642.95" width="1.80" height="1.80" fill="#1a1a1a"/><rect x="955.75" y="642.95" width="1.80" height="1.80" fill="#1a1a1a"/><rect x="962.75" y="642.95" width="1.80" height="1.80" fill="#1a1a1a"/><rect x="964.50" y="642.95" width="1.80" height="1.80" fill="#1a1a1a"/><rect x="968.00" y="642.95" width="1.80" height="1.80" fill="#1a1a1a"/><rect x="969.75" y="642.95" width="1.80" height="1.80" fill="#1a1a1a"/><rect x="933.00" y="644.70" width="1.80" height="1.80" fill="#1a1a1a"/><rect x="936.50" y="644.70" width="1.80" height="1.80" fill="#1a1a1a"/><rect x="940.00" y="644.70" width="1.80" height="1.80" fill="#1a1a1a"/><rect x="941.75" y="644.70" width="1.80" height="1.80" fill="#1a1a1a"/><rect x="947.00" y="644.70" width="1.80" height="1.80" fill="#1a1a1a"/><rect x="948.75" y="644.70" width="1.80" height="1.80" fill="#1a1a1a"/><rect x="952.25" y="644.70" width="1.80" height="1.80" fill="#1a1a1a"/><rect x="954.00" y="644.70" width="1.80" height="1.80" fill="#1a1a1a"/><rect x="955.75" y="644.70" width="1.80" height="1.80" fill="#1a1a1a"/><rect x="957.50" y="644.70" width="1.80" height="1.80" fill="#1a1a1a"/><rect x="959.25" y="644.70" width="1.80" height="1.80" fill="#1a1a1a"/><rect x="961.00" y="644.70" width="1.80" height="1.80" fill="#1a1a1a"/><rect x="962.75" y="644.70" width="1.80" height="1.80" fill="#1a1a1a"/><rect x="966.25" y="644.70" width="1.80" height="1.80" fill="#1a1a1a"/><rect x="969.75" y="644.70" width="1.80" height="1.80" fill="#1a1a1a"/><rect x="971.50" y="644.70" width="1.80" height="1.80" fill="#1a1a1a"/><rect x="929.50" y="646.45" width="1.80" height="1.80" fill="#1a1a1a"/><rect x="931.25" y="646.45" width="1.80" height="1.80" fill="#1a1a1a"/><rect x="933.00" y="646.45" width="1.80" height="1.80" fill="#1a1a1a"/><rect x="938.25" y="646.45" width="1.80" height="1.80" fill="#1a1a1a"/><rect x="940.00" y="646.45" width="1.80" height="1.80" fill="#1a1a1a"/><rect x="943.50" y="646.45" width="1.80" height="1.80" fill="#1a1a1a"/><rect x="947.00" y="646.45" width="1.80" height="1.80" fill="#1a1a1a"/><rect x="948.75" y="646.45" width="1.80" height="1.80" fill="#1a1a1a"/><rect x="952.25" y="646.45" width="1.80" height="1.80" fill="#1a1a1a"/><rect x="959.25" y="646.45" width="1.80" height="1.80" fill="#1a1a1a"/><rect x="966.25" y="646.45" width="1.80" height="1.80" fill="#1a1a1a"/><rect x="968.00" y="646.45" width="1.80" height="1.80" fill="#1a1a1a"/><rect x="969.75" y="646.45" width="1.80" height="1.80" fill="#1a1a1a"/><rect x="971.50" y="646.45" width="1.80" height="1.80" fill="#1a1a1a"/><rect x="929.50" y="648.20" width="1.80" height="1.80" fill="#1a1a1a"/><rect x="933.00" y="648.20" width="1.80" height="1.80" fill="#1a1a1a"/><rect x="934.75" y="648.20" width="1.80" height="1.80" fill="#1a1a1a"/><rect x="936.50" y="648.20" width="1.80" height="1.80" fill="#1a1a1a"/><rect x="943.50" y="648.20" width="1.80" height="1.80" fill="#1a1a1a"/><rect x="945.25" y="648.20" width="1.80" height="1.80" fill="#1a1a1a"/><rect x="947.00" y="648.20" width="1.80" height="1.80" fill="#1a1a1a"/><rect x="948.75" y="648.20" width="1.80" height="1.80" fill="#1a1a1a"/><rect x="950.50" y="648.20" width="1.80" height="1.80" fill="#1a1a1a"/><rect x="952.25" y="648.20" width="1.80" height="1.80" fill="#1a1a1a"/><rect x="954.00" y="648.20" width="1.80" height="1.80" fill="#1a1a1a"/><rect x="961.00" y="648.20" width="1.80" height="1.80" fill="#1a1a1a"/><rect x="964.50" y="648.20" width="1.80" height="1.80" fill="#1a1a1a"/><rect x="966.25" y="648.20" width="1.80" height="1.80" fill="#1a1a1a"/><rect x="968.00" y="648.20" width="1.80" height="1.80" fill="#1a1a1a"/><rect x="969.75" y="648.20" width="1.80" height="1.80" fill="#1a1a1a"/><rect x="971.50" y="648.20" width="1.80" height="1.80" fill="#1a1a1a"/><rect x="943.50" y="649.95" width="1.80" height="1.80" fill="#1a1a1a"/><rect x="945.25" y="649.95" width="1.80" height="1.80" fill="#1a1a1a"/><rect x="947.00" y="649.95" width="1.80" height="1.80" fill="#1a1a1a"/><rect x="959.25" y="649.95" width="1.80" height="1.80" fill="#1a1a1a"/><rect x="961.00" y="649.95" width="1.80" height="1.80" fill="#1a1a1a"/><rect x="964.50" y="649.95" width="1.80" height="1.80" fill="#1a1a1a"/><rect x="969.75" y="649.95" width="1.80" height="1.80" fill="#1a1a1a"/><rect x="929.50" y="651.70" width="1.80" height="1.80" fill="#1a1a1a"/><rect x="931.25" y="651.70" width="1.80" height="1.80" fill="#1a1a1a"/><rect x="933.00" y="651.70" width="1.80" height="1.80" fill="#1a1a1a"/><rect x="934.75" y="651.70" width="1.80" height="1.80" fill="#1a1a1a"/><rect x="936.50" y="651.70" width="1.80" height="1.80" fill="#1a1a1a"/><rect x="938.25" y="651.70" width="1.80" height="1.80" fill="#1a1a1a"/><rect x="940.00" y="651.70" width="1.80" height="1.80" fill="#1a1a1a"/><rect x="954.00" y="651.70" width="1.80" height="1.80" fill="#1a1a1a"/><rect x="955.75" y="651.70" width="1.80" height="1.80" fill="#1a1a1a"/><rect x="957.50" y="651.70" width="1.80" height="1.80" fill="#1a1a1a"/><rect x="959.25" y="651.70" width="1.80" height="1.80" fill="#1a1a1a"/><rect x="961.00" y="651.70" width="1.80" height="1.80" fill="#1a1a1a"/><rect x="971.50" y="651.70" width="1.80" height="1.80" fill="#1a1a1a"/><rect x="929.50" y="653.45" width="1.80" height="1.80" fill="#1a1a1a"/><rect x="940.00" y="653.45" width="1.80" height="1.80" fill="#1a1a1a"/><rect x="943.50" y="653.45" width="1.80" height="1.80" fill="#1a1a1a"/><rect x="945.25" y="653.45" width="1.80" height="1.80" fill="#1a1a1a"/><rect x="947.00" y="653.45" width="1.80" height="1.80" fill="#1a1a1a"/><rect x="950.50" y="653.45" width="1.80" height="1.80" fill="#1a1a1a"/><rect x="955.75" y="653.45" width="1.80" height="1.80" fill="#1a1a1a"/><rect x="957.50" y="653.45" width="1.80" height="1.80" fill="#1a1a1a"/><rect x="959.25" y="653.45" width="1.80" height="1.80" fill="#1a1a1a"/><rect x="968.00" y="653.45" width="1.80" height="1.80" fill="#1a1a1a"/><rect x="969.75" y="653.45" width="1.80" height="1.80" fill="#1a1a1a"/><rect x="971.50" y="653.45" width="1.80" height="1.80" fill="#1a1a1a"/><rect x="929.50" y="655.20" width="1.80" height="1.80" fill="#1a1a1a"/><rect x="933.00" y="655.20" width="1.80" height="1.80" fill="#1a1a1a"/><rect x="934.75" y="655.20" width="1.80" height="1.80" fill="#1a1a1a"/><rect x="936.50" y="655.20" width="1.80" height="1.80" fill="#1a1a1a"/><rect x="940.00" y="655.20" width="1.80" height="1.80" fill="#1a1a1a"/><rect x="945.25" y="655.20" width="1.80" height="1.80" fill="#1a1a1a"/><rect x="948.75" y="655.20" width="1.80" height="1.80" fill="#1a1a1a"/><rect x="950.50" y="655.20" width="1.80" height="1.80" fill="#1a1a1a"/><rect x="952.25" y="655.20" width="1.80" height="1.80" fill="#1a1a1a"/><rect x="955.75" y="655.20" width="1.80" height="1.80" fill="#1a1a1a"/><rect x="961.00" y="655.20" width="1.80" height="1.80" fill="#1a1a1a"/><rect x="962.75" y="655.20" width="1.80" height="1.80" fill="#1a1a1a"/><rect x="968.00" y="655.20" width="1.80" height="1.80" fill="#1a1a1a"/><rect x="969.75" y="655.20" width="1.80" height="1.80" fill="#1a1a1a"/><rect x="971.50" y="655.20" width="1.80" height="1.80" fill="#1a1a1a"/><rect x="929.50" y="656.95" width="1.80" height="1.80" fill="#1a1a1a"/><rect x="933.00" y="656.95" width="1.80" height="1.80" fill="#1a1a1a"/><rect x="934.75" y="656.95" width="1.80" height="1.80" fill="#1a1a1a"/><rect x="936.50" y="656.95" width="1.80" height="1.80" fill="#1a1a1a"/><rect x="940.00" y="656.95" width="1.80" height="1.80" fill="#1a1a1a"/><rect x="948.75" y="656.95" width="1.80" height="1.80" fill="#1a1a1a"/><rect x="952.25" y="656.95" width="1.80" height="1.80" fill="#1a1a1a"/><rect x="954.00" y="656.95" width="1.80" height="1.80" fill="#1a1a1a"/><rect x="955.75" y="656.95" width="1.80" height="1.80" fill="#1a1a1a"/><rect x="957.50" y="656.95" width="1.80" height="1.80" fill="#1a1a1a"/><rect x="959.25" y="656.95" width="1.80" height="1.80" fill="#1a1a1a"/><rect x="961.00" y="656.95" width="1.80" height="1.80" fill="#1a1a1a"/><rect x="962.75" y="656.95" width="1.80" height="1.80" fill="#1a1a1a"/><rect x="964.50" y="656.95" width="1.80" height="1.80" fill="#1a1a1a"/><rect x="966.25" y="656.95" width="1.80" height="1.80" fill="#1a1a1a"/><rect x="969.75" y="656.95" width="1.80" height="1.80" fill="#1a1a1a"/><rect x="929.50" y="658.70" width="1.80" height="1.80" fill="#1a1a1a"/><rect x="933.00" y="658.70" width="1.80" height="1.80" fill="#1a1a1a"/><rect x="934.75" y="658.70" width="1.80" height="1.80" fill="#1a1a1a"/><rect x="936.50" y="658.70" width="1.80" height="1.80" fill="#1a1a1a"/><rect x="940.00" y="658.70" width="1.80" height="1.80" fill="#1a1a1a"/><rect x="947.00" y="658.70" width="1.80" height="1.80" fill="#1a1a1a"/><rect x="948.75" y="658.70" width="1.80" height="1.80" fill="#1a1a1a"/><rect x="950.50" y="658.70" width="1.80" height="1.80" fill="#1a1a1a"/><rect x="952.25" y="658.70" width="1.80" height="1.80" fill="#1a1a1a"/><rect x="954.00" y="658.70" width="1.80" height="1.80" fill="#1a1a1a"/><rect x="957.50" y="658.70" width="1.80" height="1.80" fill="#1a1a1a"/><rect x="961.00" y="658.70" width="1.80" height="1.80" fill="#1a1a1a"/><rect x="962.75" y="658.70" width="1.80" height="1.80" fill="#1a1a1a"/><rect x="966.25" y="658.70" width="1.80" height="1.80" fill="#1a1a1a"/><rect x="968.00" y="658.70" width="1.80" height="1.80" fill="#1a1a1a"/><rect x="929.50" y="660.45" width="1.80" height="1.80" fill="#1a1a1a"/><rect x="940.00" y="660.45" width="1.80" height="1.80" fill="#1a1a1a"/><rect x="943.50" y="660.45" width="1.80" height="1.80" fill="#1a1a1a"/><rect x="948.75" y="660.45" width="1.80" height="1.80" fill="#1a1a1a"/><rect x="950.50" y="660.45" width="1.80" height="1.80" fill="#1a1a1a"/><rect x="954.00" y="660.45" width="1.80" height="1.80" fill="#1a1a1a"/><rect x="955.75" y="660.45" width="1.80" height="1.80" fill="#1a1a1a"/><rect x="957.50" y="660.45" width="1.80" height="1.80" fill="#1a1a1a"/><rect x="959.25" y="660.45" width="1.80" height="1.80" fill="#1a1a1a"/><rect x="964.50" y="660.45" width="1.80" height="1.80" fill="#1a1a1a"/><rect x="968.00" y="660.45" width="1.80" height="1.80" fill="#1a1a1a"/><rect x="971.50" y="660.45" width="1.80" height="1.80" fill="#1a1a1a"/><rect x="929.50" y="662.20" width="1.80" height="1.80" fill="#1a1a1a"/><rect x="931.25" y="662.20" width="1.80" height="1.80" fill="#1a1a1a"/><rect x="933.00" y="662.20" width="1.80" height="1.80" fill="#1a1a1a"/><rect x="934.75" y="662.20" width="1.80" height="1.80" fill="#1a1a1a"/><rect x="936.50" y="662.20" width="1.80" height="1.80" fill="#1a1a1a"/><rect x="938.25" y="662.20" width="1.80" height="1.80" fill="#1a1a1a"/><rect x="940.00" y="662.20" width="1.80" height="1.80" fill="#1a1a1a"/><rect x="943.50" y="662.20" width="1.80" height="1.80" fill="#1a1a1a"/><rect x="945.25" y="662.20" width="1.80" height="1.80" fill="#1a1a1a"/><rect x="947.00" y="662.20" width="1.80" height="1.80" fill="#1a1a1a"/><rect x="948.75" y="662.20" width="1.80" height="1.80" fill="#1a1a1a"/><rect x="950.50" y="662.20" width="1.80" height="1.80" fill="#1a1a1a"/><rect x="952.25" y="662.20" width="1.80" height="1.80" fill="#1a1a1a"/><rect x="954.00" y="662.20" width="1.80" height="1.80" fill="#1a1a1a"/><rect x="955.75" y="662.20" width="1.80" height="1.80" fill="#1a1a1a"/><rect x="962.75" y="662.20" width="1.80" height="1.80" fill="#1a1a1a"/><rect x="964.50" y="662.20" width="1.80" height="1.80" fill="#1a1a1a"/><rect x="968.00" y="662.20" width="1.80" height="1.80" fill="#1a1a1a"/><rect x="969.75" y="662.20" width="1.80" height="1.80" fill="#1a1a1a"/><rect x="971.50" y="662.20" width="1.80" height="1.80" fill="#1a1a1a"/>

<g stroke="#d5ab45" stroke-width="1.2" fill="none">
 <path d="M1188.3,548 V584.4 L1174.7,601.8 V607.6 L1165,617 H1104"/>
 <path d="M1182,569 V583.4 L1169,596 H1165"/>
 <path d="M1197.5,567 V586 L1185.4,600.8 V621 L1174,625 H1144"/>
 <path d="M1200,594 L1194,600 V640"/>
 <path d="M1172,668 L1183,658 H1200"/>
 <path d="M1150,669 L1158,662 H1200"/>
 <path d="M1168,650 H1200"/>
 <path d="M1146,637.5 H1155"/>
 <circle cx="1188.3" cy="545.8" r="2.3"/><circle cx="1182" cy="567" r="2.3"/><circle cx="1197.5" cy="564.7" r="2.3"/>
 <circle cx="1162.8" cy="596" r="2.3"/><circle cx="1101.5" cy="617" r="2.5"/><circle cx="1171.9" cy="625" r="2.5"/>
 <circle cx="1142" cy="625" r="2.5"/><circle cx="1143" cy="637.5" r="2.3"/><circle cx="1157.5" cy="637.5" r="2.3"/>
 <circle cx="1166" cy="650" r="2.3"/><circle cx="1150.5" cy="664" r="2.3"/>
</g>
<circle cx="1194" cy="640" r="1.8" fill="#efe3b0"/>

<circle cx="46.9" cy="362.0" r="2.8" fill="#f0c24c"/><circle cx="46.9" cy="382.6" r="2.8" fill="#f0c24c"/><circle cx="46.9" cy="418.4" r="2.8" fill="#f0c24c"/><circle cx="46.9" cy="453.1" r="2.8" fill="#f0c24c"/>
</svg>
<div class="t" id="t0" style="left:143.00px;top:14.57px;font-size:41.13px;font-weight:bold;color:#f2c24c;transform:scaleX(0.7193);-webkit-text-stroke:0.6px currentColor">AI AUTOMATION ECONOMIC VIABILITY STUDY</div>
<div class="t" id="t1" style="left:143.00px;top:55.10px;font-size:32.27px;font-weight:bold;color:#fbfaf5;transform:scaleX(0.8256);-webkit-text-stroke:0.6px currentColor">Computer Vision Applications &amp; Economic Impact Analysis</div>
<div class="t" id="t2" style="left:979.80px;top:42.06px;font-size:13.08px;font-weight:bold;color:#f0efe8;transform:scaleX(0.6903)">CSAIL RESEARCH SERIES · VOL 14 · 2024</div>
<div class="t" id="t3" style="left:41.90px;top:137.76px;font-size:23.69px;font-weight:bold;color:#f2c24c;transform:scaleX(0.7274);-webkit-text-stroke:0.6px currentColor">STUDY CONTEXT</div>
<div class="t" id="t4" style="left:43.40px;top:178.37px;font-size:13.52px;font-weight:bold;color:#f7f6f0;transform:scaleX(0.7642)">This study evaluates the economic viability of</div>
<div class="t" id="t5" style="left:43.40px;top:193.57px;font-size:13.52px;font-weight:bold;color:#f7f6f0;transform:scaleX(0.7685)">deploying computer vision systems across</div>
<div class="t" id="t6" style="left:43.40px;top:208.67px;font-size:13.52px;font-weight:bold;color:#f7f6f0;transform:scaleX(0.7318)">tive indirpırtal sectors — manufacturing, logistics,</div>
<div class="t" id="t7" style="left:43.40px;top:223.97px;font-size:13.52px;font-weight:bold;color:#f7f6f0;transform:scaleX(0.7760)">retail, retail healhcare diagnostics, and smart</div>
<div class="t" id="t8" style="left:43.40px;top:239.07px;font-size:13.52px;font-weight:bold;color:#f7f6f0;transform:scaleX(0.7359)">infrastucture — using a mixed-methds approath</div>
<div class="t" id="t9" style="left:43.40px;top:254.27px;font-size:13.52px;font-weight:bold;color:#f7f6f0;transform:scaleX(0.7831)">combinimg cost-benefit modeling, labor</div>
<div class="t" id="t10" style="left:43.40px;top:269.47px;font-size:13.52px;font-weight:bold;color:#f7f6f0;transform:scaleX(0.7680)">displ• cramenusion simulation, and ROI</div>
<div class="t" id="t11" style="left:43.40px;top:283.57px;font-size:13.52px;font-weight:bold;color:#f7f6f0;transform:scaleX(0.7493)">forecasting over a 5-year horizon.</div>
<div class="t" id="t12" style="left:42.60px;top:322.38px;font-size:22.67px;font-weight:bold;color:#f2c24c;transform:scaleX(0.7576);-webkit-text-stroke:0.6px currentColor">KEY METRICS</div>
<div class="t" id="t13" style="left:56.40px;top:354.65px;font-size:14.53px;font-weight:bold;color:#f7f6f0;transform:scaleX(0.7364)">Labor Cost Reduction Potential: 34–67%</div>
<div class="t" id="t14" style="left:56.40px;top:374.75px;font-size:14.53px;font-weight:bold;color:#f7f6f0;transform:scaleX(0.7284)">Implementation Payback Period: 14–28</div>
<div class="t" id="t15" style="left:56.40px;top:387.75px;font-size:14.53px;font-weight:bold;color:#f7f6f0;transform:scaleX(0.6944)">months</div>
<div class="t" id="t16" style="left:56.40px;top:410.65px;font-size:14.53px;font-weight:bold;color:#f7f6f0;transform:scaleX(0.7463)">Sector-Specific Adoption Rate: 23%</div>
<div class="t" id="t17" style="left:56.40px;top:426.45px;font-size:14.53px;font-weight:bold;color:#f7f6f0;transform:scaleX(0.7117)">(Vlability Thresbold)</div>
<div class="t" id="t18" style="left:56.40px;top:445.25px;font-size:14.53px;font-weight:bold;color:#f7f6f0;transform:scaleX(0.7262)">Annual Productivity Gain Index:</div>
<div class="t" id="t19" style="left:56.40px;top:460.45px;font-size:14.53px;font-weight:bold;color:#f7f6f0;transform:scaleX(0.7445)">+18.4 points avg.</div>
<div class="t" id="t20" style="left:398.40px;top:137.43px;font-size:23.84px;font-weight:bold;color:#13335f;transform:scaleX(0.8249);-webkit-text-stroke:0.6px currentColor">ECONOMIC VIABILITY INDEX BY SECTOR</div>
<div class="t" id="t21" style="left:364.00px;top:163.76px;font-size:13.08px;font-weight:normal;color:#6b685e;transform:scaleX(0.8747)">Percent of surveyed enterprises meeting minimum viability threshold (N=1,247 sesvoydents)</div>
<div class="t" id="t22" style="left:470.40px;top:178.76px;font-size:13.08px;font-weight:normal;color:#6b685e;transform:scaleX(0.8610)">Source: CSAIL Economic Automation Lab, Q4 2024.</div>
<div class="t" id="t23" style="left:350.60px;top:227.07px;font-size:13.95px;font-weight:normal;color:#262626;transform:scaleX(0.8061);-webkit-text-stroke:0.2px currentColor">Manufacturing</div>
<div class="t" id="t24" style="left:367.70px;top:267.47px;font-size:13.95px;font-weight:normal;color:#262626;transform:scaleX(0.8026);-webkit-text-stroke:0.2px currentColor">Logistics &amp;</div>
<div class="t" id="t25" style="left:358.70px;top:282.07px;font-size:13.95px;font-weight:normal;color:#262626;transform:scaleX(0.7732);-webkit-text-stroke:0.2px currentColor">Warehousing</div>
<div class="t" id="t26" style="left:392.80px;top:318.67px;font-size:13.95px;font-weight:normal;color:#262626;transform:scaleX(0.8137);-webkit-text-stroke:0.2px currentColor">Retail</div>
<div class="t" id="t27" style="left:339.00px;top:333.67px;font-size:13.95px;font-weight:normal;color:#262626;transform:scaleX(0.7580);-webkit-text-stroke:0.2px currentColor">Consumer Goods</div>
<div class="t" id="t28" style="left:368.10px;top:369.57px;font-size:13.95px;font-weight:normal;color:#262626;transform:scaleX(0.7967);-webkit-text-stroke:0.2px currentColor">Healthcare</div>
<div class="t" id="t29" style="left:364.80px;top:384.07px;font-size:13.95px;font-weight:normal;color:#262626;transform:scaleX(0.7912);-webkit-text-stroke:0.2px currentColor">Diagnostics</div>
<div class="t" id="t30" style="left:391.70px;top:419.37px;font-size:13.95px;font-weight:normal;color:#262626;transform:scaleX(0.8098);-webkit-text-stroke:0.2px currentColor">Smart</div>
<div class="t" id="t31" style="left:355.30px;top:434.37px;font-size:13.95px;font-weight:normal;color:#262626;transform:scaleX(0.8253);-webkit-text-stroke:0.2px currentColor">Infrastruction</div>
<div class="t" id="t32" style="left:364.00px;top:469.07px;font-size:13.95px;font-weight:normal;color:#262626;transform:scaleX(0.8290);-webkit-text-stroke:0.2px currentColor">Agricultural</div>
<div class="t" id="t33" style="left:364.00px;top:484.37px;font-size:13.95px;font-weight:normal;color:#262626;transform:scaleX(0.8197);-webkit-text-stroke:0.2px currentColor">Automation</div>
<div class="t" id="t34" style="left:756.50px;top:213.71px;font-size:14.24px;font-weight:normal;color:#2a2a2a;transform:scaleX(0.7544);-webkit-text-stroke:0.2px currentColor">61%</div>
<div class="t" id="t35" style="left:828.00px;top:235.01px;font-size:14.24px;font-weight:normal;color:#2a2a2a;transform:scaleX(0.7544);-webkit-text-stroke:0.2px currentColor">78%</div>
<div class="t" id="t36" style="left:725.80px;top:265.61px;font-size:14.24px;font-weight:normal;color:#2a2a2a;transform:scaleX(0.7544);-webkit-text-stroke:0.2px currentColor">54%</div>
<div class="t" id="t37" style="left:787.50px;top:285.61px;font-size:14.24px;font-weight:normal;color:#2a2a2a;transform:scaleX(0.7544);-webkit-text-stroke:0.2px currentColor">71%</div>
<div class="t" id="t38" style="left:683.30px;top:316.11px;font-size:14.24px;font-weight:normal;color:#2a2a2a;transform:scaleX(0.7544);-webkit-text-stroke:0.2px currentColor">48%</div>
<div class="t" id="t39" style="left:736.30px;top:336.41px;font-size:14.24px;font-weight:normal;color:#2a2a2a;transform:scaleX(0.7544);-webkit-text-stroke:0.2px currentColor">65%</div>
<div class="t" id="t40" style="left:638.00px;top:365.91px;font-size:14.24px;font-weight:normal;color:#2a2a2a;transform:scaleX(0.7544);-webkit-text-stroke:0.2px currentColor">39%</div>
<div class="t" id="t41" style="left:719.00px;top:386.61px;font-size:14.24px;font-weight:normal;color:#2a2a2a;transform:scaleX(0.7544);-webkit-text-stroke:0.2px currentColor">58%</div>
<div class="t" id="t42" style="left:592.80px;top:416.41px;font-size:14.24px;font-weight:normal;color:#2a2a2a;transform:scaleX(0.7544);-webkit-text-stroke:0.2px currentColor">31%</div>
<div class="t" id="t43" style="left:664.20px;top:438.11px;font-size:14.24px;font-weight:normal;color:#2a2a2a;transform:scaleX(0.7544);-webkit-text-stroke:0.2px currentColor">52%</div>
<div class="t" id="t44" style="left:547.50px;top:466.81px;font-size:14.24px;font-weight:normal;color:#2a2a2a;transform:scaleX(0.7544);-webkit-text-stroke:0.2px currentColor">23%</div>
<div class="t" id="t45" style="left:626.30px;top:487.81px;font-size:14.24px;font-weight:normal;color:#2a2a2a;transform:scaleX(0.7544);-webkit-text-stroke:0.2px currentColor">44%</div>
<div class="t" id="t46" style="left:422.85px;top:515.72px;font-size:12.79px;font-weight:normal;color:#2e2e2e;transform:scaleX(0.7303)">0%</div>
<div class="t" id="t47" style="left:472.85px;top:515.72px;font-size:12.79px;font-weight:normal;color:#2e2e2e;transform:scaleX(0.7424)">10%</div>
<div class="t" id="t48" style="left:525.60px;top:515.72px;font-size:12.79px;font-weight:normal;color:#2e2e2e;transform:scaleX(0.7424)">20%</div>
<div class="t" id="t49" style="left:578.35px;top:515.72px;font-size:12.79px;font-weight:normal;color:#2e2e2e;transform:scaleX(0.7424)">30%</div>
<div class="t" id="t50" style="left:631.10px;top:515.72px;font-size:12.79px;font-weight:normal;color:#2e2e2e;transform:scaleX(0.7424)">40%</div>
<div class="t" id="t51" style="left:683.85px;top:515.72px;font-size:12.79px;font-weight:normal;color:#2e2e2e;transform:scaleX(0.7424)">50%</div>
<div class="t" id="t52" style="left:736.60px;top:515.72px;font-size:12.79px;font-weight:normal;color:#2e2e2e;transform:scaleX(0.7424)">60%</div>
<div class="t" id="t53" style="left:789.35px;top:515.72px;font-size:12.79px;font-weight:normal;color:#2e2e2e;transform:scaleX(0.7424)">70%</div>
<div class="t" id="t54" style="left:842.10px;top:515.72px;font-size:12.79px;font-weight:normal;color:#2e2e2e;transform:scaleX(0.7424)">80%</div>
<div class="t" id="t55" style="left:585.00px;top:530.50px;font-size:13.81px;font-weight:normal;color:#2e2e2e;transform:scaleX(0.7280)">Viability Percentage (%)</div>
<div class="t" id="t56" style="left:484.50px;top:554.92px;font-size:14.17px;font-weight:normal;color:#2a2a2a;transform:scaleX(0.7700)">Current Viability</div>
<div class="t" id="t57" style="left:610.00px;top:554.92px;font-size:14.17px;font-weight:normal;color:#2a2a2a;transform:scaleX(0.7755)">Projected Viability (Year 5)</div>
<div class="t" id="t58" style="left:339.00px;top:576.07px;font-size:9.59px;font-weight:normal;color:#2a2a2a;transform:scaleX(0.7810)">* Statistical signlience p&lt; 0.01 | Confidence Interval: 95% | Survey condeded Dctuber: Cclober-December 2024 | Deta mmalized par enbourrise size brackeh.</div>
<div class="t" id="t59" style="left:728.70px;top:421.72px;font-size:17.44px;font-weight:bold;color:#f2c24c;transform:scaleX(0.7369);-webkit-text-stroke:0.35px currentColor">Minimum Viability</div>
<div class="t" id="t60" style="left:730.20px;top:437.92px;font-size:17.44px;font-weight:bold;color:#f2c24c;transform:scaleX(0.7490);-webkit-text-stroke:0.35px currentColor">Threshold – 23%</div>
<div class="t" id="t61" style="left:927.60px;top:136.44px;font-size:21.95px;font-weight:bold;color:#f2c24c;transform:scaleX(0.7908);-webkit-text-stroke:0.6px currentColor">COMPUTER VISION</div>
<div class="t" id="t62" style="left:927.60px;top:157.04px;font-size:21.95px;font-weight:bold;color:#f2c24c;transform:scaleX(0.7866);-webkit-text-stroke:0.6px currentColor">APPLICATIONS</div>
<div class="t" id="t63" style="left:1008.20px;top:197.96px;font-size:12.65px;font-weight:bold;color:#f7f6f0;transform:scaleX(0.7499)">Automated Quality Inspection</div>
<div class="t" id="t64" style="left:1008.20px;top:214.26px;font-size:12.65px;font-weight:bold;color:#f7f6f0;transform:scaleX(0.7380)">Reduces defectrates by <span style="color:#f5c842">41%</span> in</div>
<div class="t" id="t65" style="left:1008.20px;top:227.26px;font-size:12.65px;font-weight:bold;color:#f7f6f0;transform:scaleX(0.7187)">automotic assembly limes</div>
<div class="t" id="t66" style="left:1008.20px;top:262.56px;font-size:12.65px;font-weight:bold;color:#f7f6f0;transform:scaleX(0.7288)">Inventory Management &amp; Tracking</div>
<div class="t" id="t67" style="left:1008.20px;top:278.26px;font-size:12.65px;font-weight:bold;color:#f7f6f0;transform:scaleX(0.7290)">Lowers stock discopency costs</div>
<div class="t" id="t68" style="left:1008.20px;top:291.06px;font-size:12.65px;font-weight:bold;color:#f7f6f0;transform:scaleX(0.7592)">by <span style="color:#f5c842">$2.3M</span> onnually per mid-</div>
<div class="t" id="t69" style="left:1008.20px;top:303.56px;font-size:12.65px;font-weight:bold;color:#f7f6f0;transform:scaleX(0.7729)">sized facility</div>
<div class="t" id="t70" style="left:1008.20px;top:332.06px;font-size:12.65px;font-weight:bold;color:#f7f6f0;transform:scaleX(0.7570)">Diagnostic Imaging Assistance</div>
<div class="t" id="t71" style="left:1008.20px;top:347.76px;font-size:12.65px;font-weight:bold;color:#f7f6f0;transform:scaleX(0.7258)">Increases early-sage disease</div>
<div class="t" id="t72" style="left:1008.20px;top:360.76px;font-size:12.65px;font-weight:bold;color:#f7f6f0;transform:scaleX(0.7746)">detection accuracy by <span style="color:#f5c842">27%</span> in</div>
<div class="t" id="t73" style="left:1008.20px;top:373.56px;font-size:12.65px;font-weight:bold;color:#f7f6f0;transform:scaleX(0.7060)">radiology worhiows</div>
<div class="t" id="t74" style="left:927.60px;top:413.51px;font-size:22.09px;font-weight:bold;color:#f2c24c;transform:scaleX(0.7265);-webkit-text-stroke:0.6px currentColor">RESEARCH METHODOLOGY</div>
<div class="t" id="t75" style="left:926.90px;top:445.90px;font-size:13.37px;font-weight:bold;color:#f7f6f0;transform:scaleX(0.7427)">Mixed-Methods Design: Quaistive survey data</div>
<div class="t" id="t76" style="left:926.90px;top:460.90px;font-size:13.37px;font-weight:bold;color:#f7f6f0;transform:scaleX(0.7327)">(n=1,247) triangalized with quraltive eqplistive</div>
<div class="t" id="t77" style="left:926.90px;top:475.10px;font-size:13.37px;font-weight:bold;color:#f7f6f0;transform:scaleX(0.7460)">studies (n34), machine learning cost-firegasting</div>
<div class="t" id="t78" style="left:926.90px;top:489.50px;font-size:13.37px;font-weight:bold;color:#f7f6f0;transform:scaleX(0.7457)">modets trained on histerical auconmpation</div>
<div class="t" id="t79" style="left:926.90px;top:504.20px;font-size:13.37px;font-weight:bold;color:#f7f6f0;transform:scaleX(0.7689)">deployment detasets, valiated by Monte Cario</div>
<div class="t" id="t80" style="left:926.90px;top:517.80px;font-size:13.37px;font-weight:bold;color:#f7f6f0;transform:scaleX(0.7814)">simulation with 10,000 iterations.</div>
<div class="t" id="t81" style="left:934.50px;top:548.42px;font-size:9.59px;font-weight:bold;color:#f0efe8;transform:scaleX(0.7155)">Lead Researcher:&nbsp; Dr. Sarah Chun, MIT CSAIL | Princinal Tnimagjer</div>
<div class="t" id="t82" style="left:934.50px;top:559.92px;font-size:9.59px;font-weight:bold;color:#f0efe8;transform:scaleX(0.6984)">Pro. David Prrk, MIT EECS | Pendng, NEF Con CEF24-AI-COIN-30447</div>
<div class="t" id="t83" style="left:29.75px;top:639.01px;font-size:11.92px;font-weight:bold;color:#f7f6f0;transform:scaleX(0.6948)">© 2024 Massachuslts Inithesite Technology&nbsp; · Computer Science and Inthitelligence Laboratory · All Rights Reserved.</div>
<div class="t" id="t84" style="left:677.30px;top:633.08px;font-size:11.63px;font-weight:bold;color:#f7f6f0;transform:scaleX(0.7059)">Published in: IEEE Transactions in Automation Science and</div>
<div class="t" id="t85" style="left:677.30px;top:646.28px;font-size:11.63px;font-weight:bold;color:#f7f6f0;transform:scaleX(0.7819)">Engineering · Vol. 21, Itslue 3 · September 2024</div>
<div class="t" id="t86" style="left:983.75px;top:628.28px;font-size:12.06px;font-weight:bold;color:#f7f6f0;transform:scaleX(0.6920)">ssan for miT Rsport</div>
<div class="t" id="t87" style="left:983.75px;top:641.28px;font-size:12.06px;font-weight:bold;color:#f7f6f0;transform:scaleX(0.6956)">csail.mit.ceuAsi-econ-viability-study-2024</div>
</div></body></html>
